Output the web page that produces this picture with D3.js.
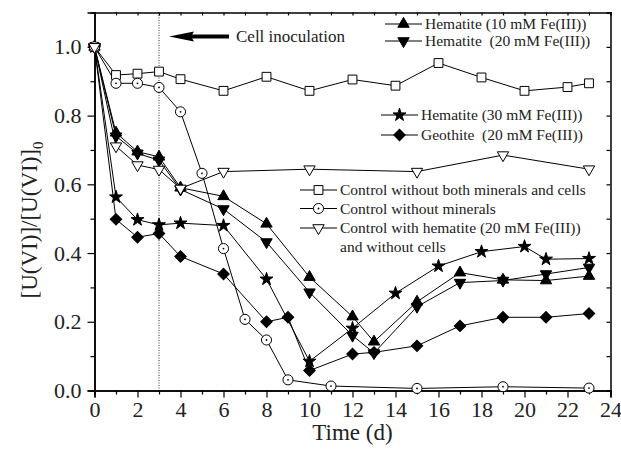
<!DOCTYPE html>
<html>
<head>
<meta charset="utf-8">
<script src="https://cdn.jsdelivr.net/npm/d3@7"></script>
<style>
  body { margin: 0; background: #fff; }
  svg { display: block; font-family: "Liberation Serif", "Times New Roman", serif; }
  text { white-space: pre; }
</style>
</head>
<body>
<svg width="621" height="452"></svg>
<script>
// time points (d) and normalized U(VI) for each run
var tHem10 = [0, 1, 2, 3, 4, 6, 8, 10, 12, 13, 15, 17, 19, 21, 23];
var hem10  = [1.0, 0.75, 0.695, 0.68, 0.59, 0.565, 0.485, 0.33, 0.215, 0.142, 0.258, 0.343, 0.322, 0.32, 0.333];

var tHem20 = [0, 1, 2, 3, 4, 6, 8, 10, 12, 13, 15, 17, 19, 21, 23];
var hem20  = [1.0, 0.74, 0.69, 0.67, 0.585, 0.528, 0.432, 0.286, 0.16, 0.109, 0.244, 0.314, 0.32, 0.339, 0.358];

var tHem30 = [0, 1, 2, 3, 4, 6, 8, 10, 12, 14, 16, 18, 20, 21, 23];
var hem30  = [1.0, 0.563, 0.497, 0.482, 0.487, 0.48, 0.324, 0.085, 0.181, 0.283, 0.362, 0.404, 0.419, 0.382, 0.384];

var tGoe20 = [0, 1, 2, 3, 4, 6, 8, 9, 10, 12, 13, 15, 17, 19, 21, 23];
var goe20  = [1.0, 0.498, 0.446, 0.457, 0.39, 0.339, 0.2, 0.213, 0.058, 0.106, 0.111, 0.13, 0.188, 0.213, 0.213, 0.224];

var tCtrlBoth = [0, 1, 2, 3, 4, 6, 8, 10, 12, 14, 16, 18, 20, 22, 23];
var ctrlBoth  = [1.0, 0.918, 0.922, 0.928, 0.906, 0.872, 0.913, 0.872, 0.905, 0.887, 0.953, 0.911, 0.872, 0.883, 0.894];

var tCtrlMin = [0, 1, 2, 3, 4, 5, 6, 7, 8, 9, 11, 15, 19, 23];
var ctrlMin  = [1.0, 0.894, 0.894, 0.882, 0.811, 0.632, 0.413, 0.207, 0.147, 0.031, 0.013, 0.006, 0.011, 0.007];

var tCtrlHem = [0, 1, 2, 3, 4, 6, 10, 15, 19, 23];
var ctrlHem  = [1.0, 0.711, 0.656, 0.643, 0.588, 0.637, 0.644, 0.637, 0.685, 0.644];

var xTicks = [0, 2, 4, 6, 8, 10, 12, 14, 16, 18, 20, 22, 24];
var yTicks = [0.0, 0.2, 0.4, 0.6, 0.8, 1.0];

var series = [
  {t: tHem10, v: hem10, sym: 'up', fill: 'black'},
  {t: tHem20, v: hem20, sym: 'down', fill: 'black'},
  {t: tHem30, v: hem30, sym: 'star', fill: 'black'},
  {t: tGoe20, v: goe20, sym: 'diamond', fill: 'black'},
  {t: tCtrlBoth, v: ctrlBoth, sym: 'square', fill: 'white'},
  {t: tCtrlMin, v: ctrlMin, sym: 'circle', fill: 'white'},
  {t: tCtrlHem, v: ctrlHem, sym: 'down', fill: 'white'}
];

var svg = d3.select('svg');
var pLeft = 94.5, pRight = 610.5, pTop = 12.5, pBottom = 390.5;

var x = d3.scaleLinear().domain([0, 24]).range([pLeft, pRight]);
var y = d3.scaleLinear().domain([0, 1.1]).range([pBottom, pTop]);

function symPath(s) {
  if (s == 'up') return d3.symbol().type(d3.symbolTriangle).size(56)();
  if (s == 'down') return d3.symbol().type(d3.symbolTriangle).size(56)();
  if (s == 'star') return d3.symbol().type(d3.symbolStar).size(52)();
  if (s == 'diamond') return d3.symbol().type(d3.symbolSquare).size(66)();
  if (s == 'square') return d3.symbol().type(d3.symbolSquare).size(78)();
  return d3.symbol().type(d3.symbolCircle).size(80)();
}
function symRot(s) {
  if (s == 'down') return 'rotate(180)';
  if (s == 'diamond') return 'rotate(45)';
  return null;
}
function drawMarker(g, s, fill, px, py) {
  var m = g.append('g').attr('transform', 'translate(' + px + ',' + py + ')');
  m.append('path')
    .attr('d', symPath(s))
    .attr('transform', symRot(s))
    .attr('fill', fill)
    .attr('stroke', 'black')
    .attr('stroke-width', 1);
  if (s == 'circle') {
    m.append('circle').attr('r', 0.9).attr('fill', 'black');
  }
}

// dotted inoculation line at day 3
svg.append('line')
  .attr('x1', x(3)).attr('x2', x(3))
  .attr('y1', pTop).attr('y2', pBottom)
  .attr('stroke', '#333')
  .attr('stroke-width', 1)
  .attr('stroke-dasharray', '1,1.5');

// axes
svg.append('g').attr('transform', 'translate(0,' + pBottom + ')')
  .call(d3.axisBottom(x).tickValues(xTicks).tickSize(7).tickPadding(4).tickFormat(d3.format('d')));
svg.append('g').attr('transform', 'translate(0,' + pBottom + ')')
  .call(d3.axisBottom(x).tickValues(d3.range(1, 24, 2)).tickSize(4).tickFormat(''));
svg.append('g').attr('transform', 'translate(' + pLeft + ',0)')
  .call(d3.axisLeft(y).tickValues(yTicks).tickSize(7).tickPadding(6).tickFormat(d3.format('.1f')));
svg.append('g').attr('transform', 'translate(' + pLeft + ',0)')
  .call(d3.axisLeft(y).tickValues([0.1, 0.3, 0.5, 0.7, 0.9]).tickSize(4).tickFormat(''));
svg.append('g').attr('transform', 'translate(0,' + pTop + ')')
  .call(d3.axisTop(x).tickValues(d3.range(0, 25, 1)).tickSize(-3).tickFormat(''));
svg.append('g').attr('transform', 'translate(' + pRight + ',0)')
  .call(d3.axisRight(y).tickValues(d3.range(0, 11, 1).map(function(d){ return d / 10; })).tickSize(-4).tickFormat(''));

svg.selectAll('.domain').attr('stroke', 'black').attr('stroke-width', 1.5);
svg.selectAll('.tick line').attr('stroke', 'black').attr('stroke-width', 1.2);
svg.selectAll('.tick text')
  .attr('font-family', '"Liberation Serif", serif')
  .attr('font-size', '22px')
  .attr('fill', '#222');

// axis titles
svg.append('text')
  .attr('x', (pLeft + pRight) / 2).attr('y', 440)
  .attr('text-anchor', 'middle')
  .attr('font-size', '23px')
  .attr('fill', '#222')
  .text('Time (d)');

var yl = svg.append('text')
  .attr('transform', 'translate(37,220) rotate(-90)')
  .attr('text-anchor', 'middle')
  .attr('font-size', '23px')
  .attr('fill', '#222');
yl.append('tspan').text('[U(VI)]/[U(VI)]');
yl.append('tspan').attr('font-size', '15px').attr('dy', 6).text('0');

// series lines + markers
var line = d3.line().x(function(d){ return x(d[0]); }).y(function(d){ return y(d[1]); });
series.forEach(function(s) {
  var pts = s.t.map(function(t, i){ return [t, s.v[i]]; });
  svg.append('path')
    .attr('d', line(pts))
    .attr('fill', 'none')
    .attr('stroke', 'black')
    .attr('stroke-width', 1);
});
series.forEach(function(s) {
  var g = svg.append('g');
  s.t.forEach(function(t, i) {
    drawMarker(g, s.sym, s.fill, x(t), y(s.v[i]));
  });
});

// cell inoculation arrow
var arrowY = 36.5;
svg.append('line')
  .attr('x1', 190).attr('x2', 229)
  .attr('y1', arrowY).attr('y2', arrowY)
  .attr('stroke', 'black').attr('stroke-width', 4);
svg.append('path')
  .attr('d', 'M169,' + arrowY + ' L194,' + (arrowY - 5) + ' L191,' + arrowY + ' L194,' + (arrowY + 5) + ' Z')
  .attr('fill', 'black');
svg.append('text')
  .attr('x', 236).attr('y', 42)
  .attr('font-size', '17px')
  .attr('fill', '#222')
  .text('Cell inoculation');

// legends
var legends = [
  {x0: 385, x1: 422, tx: 425, y: 24, sym: 'up', fill: 'black', label: 'Hematite (10 mM Fe(III))'},
  {x0: 385, x1: 422, tx: 425, y: 41, sym: 'down', fill: 'black', label: 'Hematite  (20 mM Fe(III))'},
  {x0: 381, x1: 418, tx: 421, y: 115, sym: 'star', fill: 'black', label: 'Hematite (30 mM Fe(III))'},
  {x0: 381, x1: 418, tx: 421, y: 135, sym: 'diamond', fill: 'black', label: 'Geothite  (20 mM Fe(III))'},
  {x0: 300, x1: 337, tx: 340, y: 190, sym: 'square', fill: 'white', label: 'Control without both minerals and cells'},
  {x0: 300, x1: 337, tx: 340, y: 208.5, sym: 'circle', fill: 'white', label: 'Control without minerals'},
  {x0: 300, x1: 337, tx: 340, y: 228, sym: 'down', fill: 'white', label: 'Control with hematite (20 mM Fe(III))'}
];
legends.forEach(function(l) {
  var g = svg.append('g');
  g.append('line')
    .attr('x1', l.x0).attr('x2', l.x1)
    .attr('y1', l.y).attr('y2', l.y)
    .attr('stroke', 'black').attr('stroke-width', 1);
  drawMarker(g, l.sym, l.fill, (l.x0 + l.x1) / 2, l.y);
  g.append('text')
    .attr('x', l.tx).attr('y', l.y + 5)
    .attr('font-size', '15.5px')
    .attr('fill', '#222')
    .text(l.label);
});
svg.append('text')
  .attr('x', 340).attr('y', 252)
  .attr('font-size', '15.5px')
  .attr('fill', '#222')
  .text('and without cells');
</script>
</body>
</html>
